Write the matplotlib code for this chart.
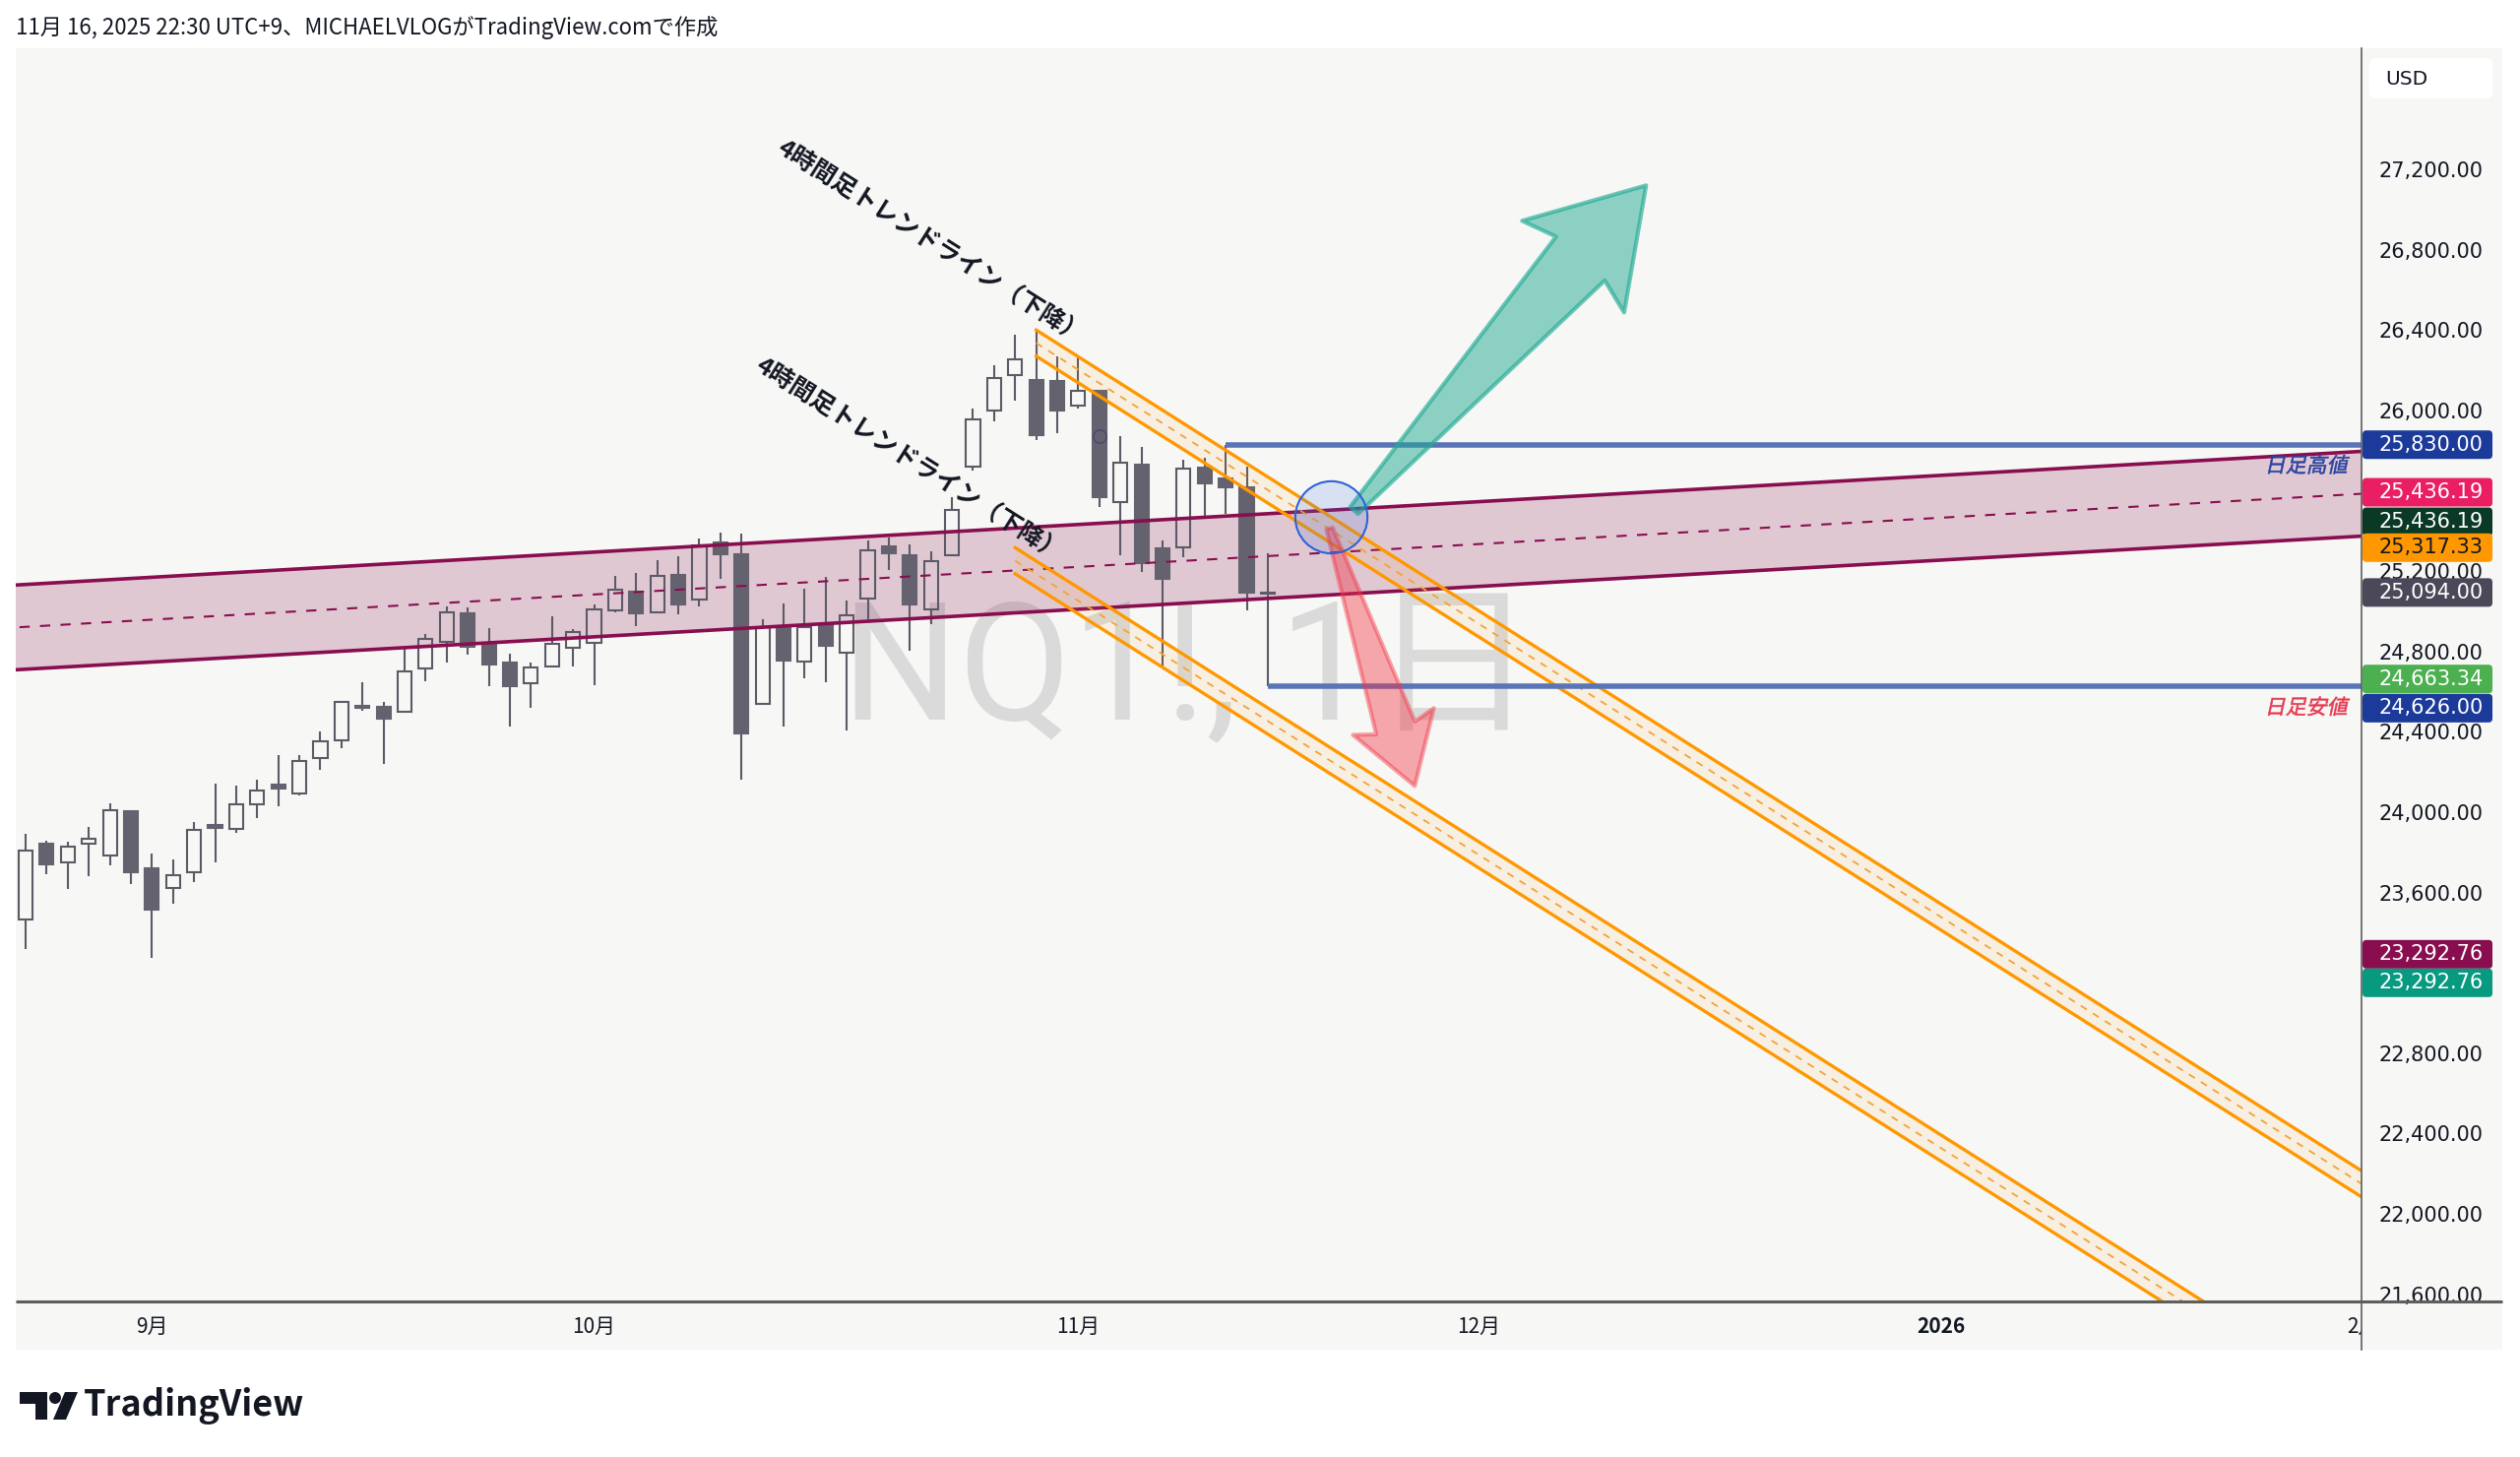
import numpy as np
import matplotlib.pyplot as plt
from matplotlib.patches import Polygon, FancyBboxPatch, Rectangle, Circle, PathPatch
from matplotlib.textpath import TextPath
from matplotlib.font_manager import FontProperties
from matplotlib.transforms import Affine2D
from matplotlib.colors import to_rgba

plt.rcParams['font.family'] = ['Noto Sans CJK JP', 'DejaVu Sans']

W, H = 2560, 1480

# ---- NQ1! daily candles (Aug 22 -> Nov 14, 2025) ----
opens = [23466, 23841, 23750, 23845, 23783, 24003, 23722, 23624, 23701, 23938,
         23915, 24039, 24139, 24095, 24270, 24356, 24528, 24523, 24498, 24716,
         24846, 24988, 24841, 24743, 24640, 24724, 24817, 24843, 25005, 25096,
         24997, 25180, 25059, 25345, 25286, 24539, 24915, 24751, 24936, 24796,
         25064, 25325, 25279, 25011, 25282, 25723, 26001, 26178, 26151, 26145,
         26026, 26096, 25544, 25731, 25312, 25318, 25715, 25661, 25617, 25090]
highs = [23894, 23856, 23853, 23926, 24044, 24005, 23792, 23766, 23951, 24142,
         24131, 24160, 24283, 24286, 24400, 24555, 24645, 24551, 24812, 24886,
         25026, 25021, 24915, 24789, 24747, 24975, 24913, 25034, 25176, 25193,
         25253, 25274, 25361, 25390, 25387, 24961, 25041, 25111, 25171, 25054,
         25353, 25367, 25335, 25297, 25568, 26009, 26227, 26377, 26401, 26271,
         26263, 26099, 25874, 25818, 25351, 25756, 25764, 25830, 25720, 25290]
lows = [23319, 23689, 23616, 23681, 23734, 23640, 23273, 23542, 23653, 23750,
        23897, 23970, 24028, 24082, 24212, 24319, 24503, 24242, 24495, 24654,
        24747, 24784, 24629, 24425, 24518, 24720, 24724, 24634, 24997, 24926,
        24990, 24985, 25026, 25160, 24160, 24535, 24425, 24665, 24645, 24408,
        24959, 25204, 24805, 24936, 25279, 25699, 25944, 26050, 25854, 25887,
        26009, 25519, 25282, 25197, 24727, 25269, 25478, 25486, 25004, 24626]
closes = [23807, 23738, 23828, 23869, 24011, 23703, 23515, 23688, 23910, 23923,
          24041, 24109, 24118, 24253, 24351, 24547, 24521, 24464, 24699, 24861,
          24997, 24825, 24735, 24626, 24722, 24838, 24895, 25011, 25106, 24992,
          25178, 25034, 25328, 25286, 24392, 24923, 24756, 24920, 24830, 24980,
          25302, 25291, 25034, 25250, 25503, 25955, 26160, 26254, 25879, 25998,
          26096, 25571, 25740, 25241, 25164, 25710, 25638, 25620, 25094, 25094]

month_labels = ['9月', '10月', '11月', '12月', '2026', '2月']
month_bars = [6, 27, 50, 69, 91, 111]
# ticks that TradingView shows (23,200 / 25,600 sit under price labels)
price_ticks = [21600, 22000, 22400, 22800, 23600, 24000, 24400, 24800,
               25200, 26000, 26400, 26800, 27200]

# pink parallel channel (two anchor bars)
chan_bars = [0, 110]
chan_upper = [25134, 25791]
chan_lower = [24712, 25369]

# orange 4h trendline channels
trend_start = [48, 47]
trend_top = [26401, 25317.33]
trend_bottom = [26271, 25187]
trend_slope = -66.5

day_high, day_high_bar = 25830.00, 57
day_low, day_low_bar = 24626.00, 59

circle_pt = (62, 25470)
marker_pt = (51, 25874)
arrow_up = [(63.1, 25503), (76.97, 27121)]
arrow_down = [(61.93, 25413), (65.98, 24131)]

axis_prices = [25830.00, 25436.19, 25436.19, 25317.33, 25094.00, 24663.34, 24626.00, 23292.76, 23292.76]
axis_colors = ['#1B3A9A', '#E91E63', '#0A3A26', '#FF9800', '#4B4959', '#4CAF50', '#1B3A9A', '#880E4F', '#089981']
axis_text_colors = ['white', 'white', 'white', '#131722', 'white', 'white', 'white', 'white', 'white']
axis_nudge = [0, -32, -2, 0, 0, 0, 22, 0, 29]

# ---- layout ----
BG = '#F7F7F5'
PL, PR, PT, PB = 16, 2399, 49, 1322     # plot area in px
fig = plt.figure(figsize=(W / 100, H / 100), dpi=100, facecolor='white')

ax_bg = fig.add_axes([0, 0, 1, 1], zorder=0)
ax_bg.set_xlim(0, W); ax_bg.set_ylim(H, 0); ax_bg.axis('off')
ax_bg.add_patch(Rectangle((16, 49), 2526, 1322, facecolor=BG, edgecolor='none'))

ax = fig.add_axes([PL / W, 1 - PB / H, (PR - PL) / W, (PB - PT) / H], zorder=1)
ax.patch.set_visible(False)
ax.set_xlim(-0.47, 110.95)
ax.set_ylim(21564, 27804)
for s in ax.spines.values():
    s.set_visible(False)
ax.set_xticks([])
ax.yaxis.tick_right()
ax.set_yticks(price_ticks)
ax.set_yticklabels([f'{v:,.2f}' for v in price_ticks])
ax.tick_params(axis='y', length=0, pad=12.5, labelsize=15, labelcolor='#131722')
for lbl in ax.get_yticklabels():
    lbl.set_fontfamily('DejaVu Sans')

# watermark
ax.text(0.5, 0.5, 'NQ1!, 1日', transform=ax.transAxes, ha='center', va='center',
        fontsize=120, color='#DADADA', family=['Roboto', 'Noto Sans CJK JP'], zorder=0.5)

# pink channel
def line_at(x, x0, y0, x1, y1):
    return y0 + (y1 - y0) * (np.asarray(x) - x0) / (x1 - x0)

xe = np.array([-2, 113])
up = line_at(xe, chan_bars[0], chan_upper[0], chan_bars[1], chan_upper[1])
lo = line_at(xe, chan_bars[0], chan_lower[0], chan_bars[1], chan_lower[1])
ax.fill_between(xe, lo, up, color='#880E4F', alpha=0.2, lw=0, zorder=1)
ax.plot(xe, up, color='#880E4F', lw=2.6, zorder=3)
ax.plot(xe, lo, color='#880E4F', lw=2.6, zorder=3)
ax.plot(xe, (up + lo) / 2, color='#880E4F', lw=1.5, ls=(0, (5, 5)), zorder=3)

# candles
x = np.arange(len(opens))
o, h, l, c = map(np.array, (opens, highs, lows, closes))
top = np.maximum(o, c); bot = np.minimum(o, c)
edge = '#5C5A66'
ax.vlines(x, top, h, color=edge, lw=1.5, zorder=2)
ax.vlines(x, l, bot, color=edge, lw=1.5, zorder=2)
bull = c >= o
ax.bar(x[bull], (top - bot)[bull], bottom=bot[bull], width=0.66,
       facecolor='none', edgecolor=edge, lw=1.5, zorder=2.1)
ax.bar(x[~bull], (top - bot)[~bull], bottom=bot[~bull], width=0.66,
       facecolor='#65626F', edgecolor='#65626F', lw=1.5, zorder=2.1)
ax.plot(*marker_pt, 'o', ms=9.6, mfc='none', mec='#4C4A6E', mew=1.2, zorder=2.5)

# orange trendline channels
for s0, t0, b0 in zip(trend_start, trend_top, trend_bottom):
    xs = np.array([s0, 125])
    tl = t0 + trend_slope * (xs - s0)
    bl = b0 + trend_slope * (xs - s0)
    ax.fill_between(xs, bl, tl, color='#FF9800', alpha=0.08, lw=0, zorder=3)
    ax.plot(xs, tl, color='#FF9800', lw=2.4, zorder=3.2)
    ax.plot(xs, bl, color='#FF9800', lw=2.4, zorder=3.2)
    ax.plot(xs, (tl + bl) / 2, color='#F2A33A', lw=1.3, ls=(0, (4, 4)), zorder=3.2)

# daily high / low lines
ax.hlines(day_high, day_high_bar, 115, color='#5A74B8', lw=4.0, zorder=3.5)
ax.hlines(day_low, day_low_bar, 115, color='#5A74B8', lw=4.0, zorder=3.5)

# circle
ax.plot(*circle_pt, 'o', ms=52.8, mfc=(0.2, 0.45, 0.9, 0.16), mec='#2F62D6', mew=1.5, zorder=6)

# arrows
def arrow_poly(tail, tip):
    p0 = ax.transData.transform(tail)
    p1 = ax.transData.transform(tip)
    v = p1 - p0
    L = np.hypot(*v)
    u = v / L
    n = np.array([-u[1], u[0]])
    shape = [(0, 0.012), (0.775, 0.075), (0.75, 0.157), (1.0, 0),
             (0.75, -0.157), (0.775, -0.075), (0, -0.012)]
    disp = [p0 + a * L * u + b * L * n for a, b in shape]
    return ax.transData.inverted().transform(disp)

for (tail, tip), col, fa, ea in [(arrow_up, '#22AB94', 0.5, 0.65), (arrow_down, '#F23645', 0.42, 0.45)]:
    ax.add_patch(Polygon(arrow_poly(tail, tip), closed=True, facecolor=to_rgba(col, fa),
                         edgecolor=to_rgba(col, ea), lw=3, joinstyle='round', zorder=5))

# rotated trendline captions
p0 = ax.transData.transform((0, 0)); p1 = ax.transData.transform((1, trend_slope))
ang = np.degrees(np.arctan2(p1[1] - p0[1], p1[0] - p0[0]))
for tx, ty in [(43.0, 26836), (41.95, 25751)]:
    ax.text(tx, ty, '4時間足トレンドライン（下降）', rotation=ang, rotation_mode='anchor',
            ha='center', va='center', fontsize=18, fontweight='bold', color='#131722', zorder=7)

# ---- overlay (pixel coords) ----
ax_top = fig.add_axes([0, 0, 1, 1], zorder=5)
ax_top.set_xlim(0, W); ax_top.set_ylim(H, 0); ax_top.axis('off')
ax_top.patch.set_visible(False)

def py(price):
    return H - ax.transData.transform((0, price))[1]

ax_top.plot([16, 2542], [PB, PB], color='#5E5E5E', lw=2.2, solid_capstyle='butt')
ax_top.plot([PR, PR], [49, 1371], color='#5E5E5E', lw=1.2)

for p, bg, fg, dy in zip(axis_prices, axis_colors, axis_text_colors, axis_nudge):
    yc = py(p) + dy
    ax_top.add_patch(FancyBboxPatch((2400, yc - 14.5), 132, 29, boxstyle='round,pad=0,rounding_size=4',
                                    facecolor=bg, edgecolor='none'))
    ax_top.text(2416, yc, f'{p:,.2f}', color=fg, fontsize=15, family='DejaVu Sans',
                ha='left', va='center')

ax_top.add_patch(FancyBboxPatch((2407, 59), 125, 41, boxstyle='round,pad=0,rounding_size=6',
                                facecolor='white', edgecolor='none'))
ax_top.text(2423, 80, 'USD', fontsize=14.5, family='DejaVu Sans', color='#131722', ha='left', va='center')

# italic captions for the daily high / low lines
fp = FontProperties(family='Noto Sans CJK JP')
for txt, price, col in [('日足高値', day_high, '#2B43A0'), ('日足安値', day_low, '#E63B52')]:
    tp = TextPath((0, 0), txt, size=21, prop=fp)
    tp = Affine2D().skew_deg(12, 0).scale(1, -1).transform_path(tp)
    ext = tp.get_extents()
    yc = py(price) + 20
    tp = Affine2D().translate(2387 - ext.x1, yc - (ext.y0 + ext.y1) / 2).transform_path(tp)
    ax_top.add_patch(PathPatch(tp, facecolor=col, edgecolor=col, lw=0.4))

# header
ax_top.text(16, 28, '11月 16, 2025 22:30 UTC+9、MICHAELVLOGがTradingView.comで作成',
            fontsize=16, color='#131722', ha='left', va='center')

# TradingView logo
ink = '#131722'
ax_top.add_patch(Polygon([(20, 1414), (48, 1414), (48, 1442), (36, 1442), (36, 1426), (20, 1426)],
                         closed=True, facecolor=ink, edgecolor='none'))
ax_top.add_patch(Circle((56, 1420), 6, facecolor=ink, edgecolor='none'))
ax_top.add_patch(Polygon([(66, 1414), (79, 1414), (67, 1442), (54, 1442)],
                         closed=True, facecolor=ink, edgecolor='none'))
ax_top.text(85, 1428, 'TradingView', fontsize=26, fontweight='bold', color=ink, ha='left', va='center')

# time axis
ax_time = fig.add_axes([PL / W, 1 - 1371 / H, (PR - PL) / W, (1371 - PB) / H], zorder=2)
ax_time.set_xlim(ax.get_xlim()); ax_time.set_ylim(0, 1); ax_time.axis('off')
for lab, b in zip(month_labels, month_bars):
    ax_time.text(b, 0.47, lab, ha='center', va='center', fontsize=15, color='#131722',
                 fontweight='bold' if lab == '2026' else 'normal', clip_on=True)

fig.savefig('out.png', dpi=100, facecolor='white')
